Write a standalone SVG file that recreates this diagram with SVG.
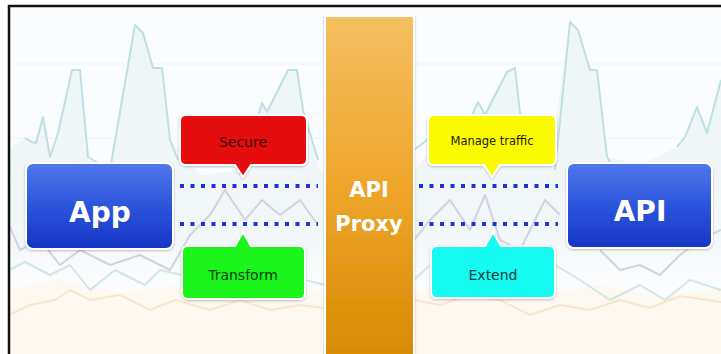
<svg xmlns="http://www.w3.org/2000/svg" width="721" height="354" viewBox="0 0 721 354">
<defs>
<linearGradient id="blue" x1="0" y1="0" x2="0" y2="1">
<stop offset="0" stop-color="#5078ea"/>
<stop offset="0.5" stop-color="#2c55dc"/>
<stop offset="1" stop-color="#1635c4"/>
</linearGradient>
<linearGradient id="orange" x1="0" y1="0" x2="0" y2="1">
<stop offset="0" stop-color="#f5bf60"/>
<stop offset="0.5" stop-color="#eea52a"/>
<stop offset="1" stop-color="#d68a04"/>
</linearGradient>
<linearGradient id="area" x1="0" y1="0" x2="0" y2="1">
<stop offset="0" stop-color="#eef6f8"/>
<stop offset="0.8" stop-color="#f2f7f9"/>
<stop offset="1" stop-color="#f8fafb" stop-opacity="0"/>
</linearGradient>
<filter id="sh" x="-10%" y="-10%" width="120%" height="130%">
<feDropShadow dx="0" dy="1" stdDeviation="1.2" flood-color="#000" flood-opacity="0.25"/>
</filter>
<style>
.lbl{font-family:"DejaVu Sans","Liberation Sans",sans-serif;text-anchor:middle}
.big{font-size:28px;fill:#ffffff;font-weight:bold}
.px{font-size:21px;fill:#ffffff;font-weight:bold}
.tag{font-size:14px}
.box{stroke:#ffffff;stroke-width:2;filter:url(#sh)}
.dot{stroke:#1f33d8;stroke-width:4;stroke-dasharray:4 6.5;fill:none}
.chart{fill:none;stroke-width:2;stroke-linejoin:round}
</style>
</defs>
<rect x="0" y="0" width="721" height="354" fill="#ffffff"/>
<g id="background">
<rect x="9" y="6" width="712" height="348" fill="#fbfcfd"/>
<path d="M9 290 L60 280 L120 292 L180 285 L240 300 L300 288 L330 292 L420 290 L480 280 L540 295 L600 285 L660 297 L721 288 L721 354 L9 354 Z" fill="#fdf8f0"/>
<line x1="9" y1="64" x2="721" y2="64" stroke="#f0f3f5" stroke-width="1"/>
<line x1="9" y1="138" x2="721" y2="138" stroke="#f0f3f5" stroke-width="1"/>
<path d="M25 138 L32 142 L36 143 L43 117 L50 157 L58 133 L72 70 L80 70 L88 157 L110 170 L135 25 L143 33 L153 68 L162 68 L170 140 L200 175 L240 170 L262 103 L267 112 L288 70 L297 70 L303 110 L320 170 L325 175 L325 290 L9 290 L9 150 Z" fill="url(#area)"/>
<path class="chart" stroke="#bde0e3" d="M25 138 L32 142 L36 143 L43 117 L50 157 L58 133 L72 70 L80 70 L88 157 L110 170 L135 25 L143 33 L153 68 L162 68 L170 140 L178 160"/>
<path class="chart" stroke="#bde0e3" d="M240 175 L262 103 L267 112 L288 70 L297 70 L303 110 L318 160"/>
<path d="M414 170 L440 140 L470 120 L478 102 L485 115 L507 72 L515 68 L520 113 L550 160 L570 22 L578 30 L590 70 L597 70 L607 157 L640 165 L677 147 L685 137 L697 107 L707 133 L721 80 L721 290 L414 290 Z" fill="url(#area)"/>
<path class="chart" stroke="#bde0e3" d="M414 150 L440 130 L470 120 L478 102 L485 115 L507 72 L515 68 L520 113 L545 160"/>
<path class="chart" stroke="#bde0e3" d="M555 170 L570 22 L578 30 L590 70 L597 70 L607 157 L612 165"/>
<path class="chart" stroke="#bde0e3" d="M677 147 L685 137 L697 107 L707 133 L721 80"/>
<path class="chart" stroke="#d2d3e2" d="M9 225 L20 250 L40 240 L60 265 L80 250 L110 265 L140 255 L170 270 L190 235 L210 215 L225 190 L245 220 L262 200 L280 215 L300 200 L318 225"/>
<path class="chart" stroke="#d2d3e2" d="M414 240 L430 220 L450 200 L470 230 L485 195 L500 240 L520 250 L545 200 L560 215 M600 250 L620 270 L640 265 L660 275 L680 255 L700 240 L721 230"/>
<path class="chart" stroke="#d0e8e6" d="M9 270 L25 262 L50 275 L70 265 L90 290 L115 270 L145 285 L160 270 L182 275 M305 280 L325 285 M414 280 L430 265 M555 265 L580 280 L610 300 L640 285 L665 300 L690 280 L721 290"/>
<path class="chart" stroke="#f6e8cd" stroke-width="1.5" d="M9 315 L30 305 L55 300 L70 290 L90 300 L120 295 L150 310 L175 300 L210 310 L240 300 L270 310 L300 305 L325 308 M414 300 L440 305 L465 296 L500 300 L530 315 L560 305 L590 310 L620 300 L650 308 L680 296 L721 302"/>
</g>
<g id="border" fill="none" stroke="#111111" stroke-width="2.5">
<path d="M9 354 L9 6 L721 6"/>
</g>
<g id="connectors">
<line class="dot" x1="180" y1="186" x2="318" y2="186"/>
<line class="dot" x1="180" y1="224" x2="318" y2="224"/>
<line class="dot" x1="419" y1="186" x2="558" y2="186"/>
<line class="dot" x1="419" y1="224" x2="558" y2="224"/>
</g>
<g id="proxy">
<rect x="325" y="16" width="89" height="345" fill="url(#orange)" stroke="#ffffff" stroke-width="2" filter="url(#sh)"/>
<text class="lbl px" x="369" y="197">API</text>
<text class="lbl px" x="369" y="231">Proxy</text>
</g>
<g id="app">
<rect class="box" x="26" y="163" width="147" height="86" rx="7" fill="url(#blue)"/>
<text class="lbl big" x="100" y="222">App</text>
</g>
<g id="api">
<rect class="box" x="567" y="163" width="145" height="85" rx="7" fill="url(#blue)"/>
<text class="lbl big" x="640" y="221">API</text>
</g>
<g id="secure">
<path class="box" d="M186 115 H301 Q307 115 307 121 V159 Q307 165 301 165 H251 L243 177 L235 165 H186 Q180 165 180 159 V121 Q180 115 186 115 Z" fill="#e50d0b"/>
<text class="lbl tag" x="243" y="147" fill="#3a0505">Secure</text>
</g>
<g id="manage">
<path class="box" d="M434 115 H550 Q556 115 556 121 V159 Q556 165 550 165 H500 L492 177 L484 165 H434 Q428 165 428 159 V121 Q428 115 434 115 Z" fill="#fbfa00"/>
<text class="lbl" x="492" y="145" font-size="11.5" fill="#222200">Manage traffic</text>
</g>
<g id="transform">
<path class="box" d="M188 246 H235 L243 232 L251 246 H299 Q305 246 305 252 V293 Q305 299 299 299 H188 Q182 299 182 293 V252 Q182 246 188 246 Z" fill="#1df51f"/>
<text class="lbl tag" x="243" y="280" fill="#0a3a0a">Transform</text>
</g>
<g id="extend">
<path class="box" d="M437 246 H485 L493 232 L501 246 H549 Q555 246 555 252 V292 Q555 298 549 298 H437 Q431 298 431 292 V252 Q431 246 437 246 Z" fill="#19fbf1"/>
<text class="lbl tag" x="493" y="280" fill="#0a3a3a">Extend</text>
</g>
</svg>
